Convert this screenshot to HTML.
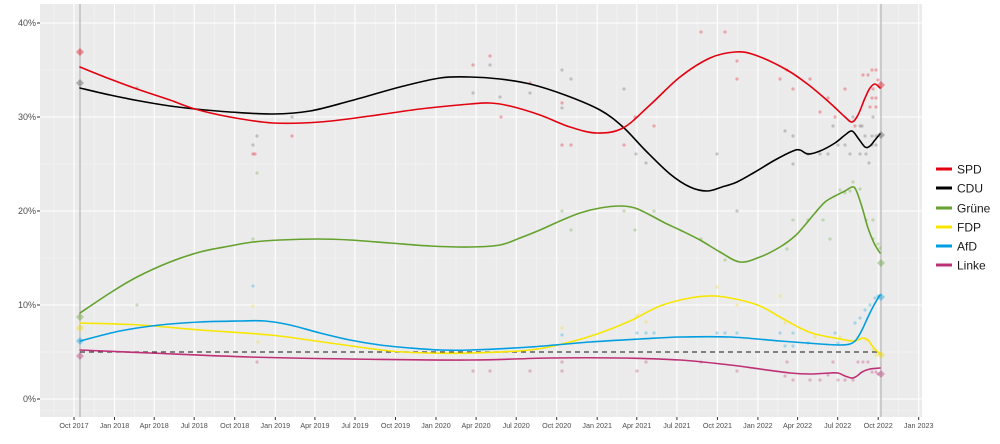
<!DOCTYPE html>
<html><head><meta charset="utf-8">
<style>
html,body{margin:0;padding:0;background:#fff;}
svg{display:block;font-family:"Liberation Sans",sans-serif;}
</style></head>
<body>
<svg id="c" width="1000" height="444" viewBox="0 0 1000 444" xmlns="http://www.w3.org/2000/svg">
<rect x="0" y="0" width="1000" height="444" fill="#fff"/>
<rect x="40" y="4" width="882" height="413" fill="#ebebeb"/>
<g id="minor" stroke="#f5f5f5" stroke-width="0.6"></g>
<g id="major" stroke="#ffffff" stroke-width="1.1"></g>
<!-- election lines -->
<line x1="80" y1="4" x2="80" y2="417" stroke="#a8a8a8" stroke-width="1"/>
<line x1="881" y1="4" x2="881" y2="417" stroke="#a8a8a8" stroke-width="1"/>
<g id="dots"></g>
<!-- 5% threshold -->
<line x1="80" y1="352" x2="881" y2="352" stroke="#404040" stroke-width="1.3" stroke-dasharray="5,4"/>
<g fill="none" stroke-width="1.6" stroke-linejoin="round" stroke-linecap="round">
<polyline class="s" stroke="#64a12d" points="80,313 110,293 137,277 170,262 200,252 230,246 253,242 280,240 318,239 350,240 390,243 430,246 470,247 500,245 520,238 540,230 560,221 580,213 600,208 620,206 635,208 650,215 665,223 680,230 700,240 720,252 740,262 760,257 780,247 795,236 805,225 815,213 825,202 835,196 845,191 852,187 856,190 862,207 868,228 874,243 880,253"/>
<polyline class="s" stroke="#f7e600" points="80,323 140,325 200,330 270,335 330,343 390,351 430,353 470,353 530,350 570,342 600,333 630,321 660,306 690,298 715,296 740,300 760,306 780,317 800,328 815,334 840,339 852,341 858,340 863,338 868,340 873,347 880,354"/>
<polyline class="s" stroke="#009ee0" points="80,341 120,331 160,325 200,322 240,321 265,321 290,325 320,333 350,340 380,345 410,348 440,350 470,350 530,347 590,342 640,339 680,337 730,337 780,341 820,344 840,345 850,344 856,340 862,330 868,317 874,305 880,295"/>
<polyline class="s" stroke="#be3075" points="80,350 150,353 250,357 350,359 470,360 550,358 620,358 680,360 730,365 760,369 790,373 810,374 830,373 838,373 845,376 852,378 857,376 862,372 870,369 880,368"/>
<polyline class="s" stroke="#000000" points="80,88 110,95 140,101 170,106 195,109 230,112 273,114 310,111 350,101 400,87 440,78 470,77 500,79 530,84 565,95 600,110 623,127 645,150 670,174 690,187 707,191 722,187 737,182 755,172 775,160 793,151 800,150 808,154 820,151 835,143 845,135 852,131 858,138 865,147 870,146 875,140 880,134"/>
<polyline class="s" stroke="#e3000f" points="80,67 110,79 140,90 170,100 195,109 230,117 273,123 320,122 370,116 420,109 470,104 490,103 510,106 540,115 570,127 597,133 623,128 650,105 680,77 710,58 735,52 755,55 787,70 810,86 830,103 845,117 852,122 858,115 865,98 870,88 875,84 880,88"/>
</g>
<g id="diam" opacity="0.4"></g>
<!-- axis ticks -->
<g id="ticks" stroke="#333" stroke-width="1"></g>
<g id="ylab" font-size="9" fill="#4d4d4d" text-anchor="end">
<text x="36" y="26">40%</text>
<text x="36" y="120">30%</text>
<text x="36" y="214">20%</text>
<text x="36" y="308">10%</text>
<text x="36" y="402">0%</text>
</g>
<g id="xlab" font-size="7.2" fill="#4d4d4d" text-anchor="middle">
<text x="74" y="428">Oct 2017</text>
<text x="114.5" y="428">Jan 2018</text>
<text x="154.2" y="428">Apr 2018</text>
<text x="194.2" y="428">Jul 2018</text>
<text x="234.7" y="428">Oct 2018</text>
<text x="275.3" y="428">Jan 2019</text>
<text x="314.9" y="428">Apr 2019</text>
<text x="355" y="428">Jul 2019</text>
<text x="395.5" y="428">Oct 2019</text>
<text x="436" y="428">Jan 2020</text>
<text x="476.1" y="428">Apr 2020</text>
<text x="516.2" y="428">Jul 2020</text>
<text x="556.7" y="428">Oct 2020</text>
<text x="597.2" y="428">Jan 2021</text>
<text x="636.8" y="428">Apr 2021</text>
<text x="676.9" y="428">Jul 2021</text>
<text x="717.4" y="428">Oct 2021</text>
<text x="757.9" y="428">Jan 2022</text>
<text x="797.6" y="428">Apr 2022</text>
<text x="837.7" y="428">Jul 2022</text>
<text x="878.2" y="428">Oct 2022</text>
<text x="918.7" y="428">Jan 2023</text>
</g>
<!-- legend -->
<g stroke-width="3">
<line x1="936" y1="169" x2="952" y2="169" stroke="#e3000f"/>
<line x1="936" y1="188" x2="952" y2="188" stroke="#000"/>
<line x1="936" y1="208" x2="952" y2="208" stroke="#64a12d"/>
<line x1="936" y1="227" x2="952" y2="227" stroke="#f7e600"/>
<line x1="936" y1="246" x2="952" y2="246" stroke="#009ee0"/>
<line x1="936" y1="265" x2="952" y2="265" stroke="#be3075"/>
</g>
<g font-size="12" fill="#1a1a1a">
<text x="957" y="173.5">SPD</text>
<text x="957" y="192.5">CDU</text>
<text x="957" y="212.5">Grüne</text>
<text x="957" y="231.5">FDP</text>
<text x="957" y="250.5">AfD</text>
<text x="957" y="269.5">Linke</text>
</g>
</svg>
<script>
(function(){
var NS="http://www.w3.org/2000/svg";
function el(n,a,p){var e=document.createElementNS(NS,n);for(var k in a)e.setAttribute(k,a[k]);p.appendChild(e);return e;}
var xs=[74,114.5,154.2,194.2,234.7,275.3,314.9,355,395.5,436,476.1,516.2,556.7,597.2,636.8,676.9,717.4,757.9,797.6,837.7,878.2,918.7];
var maj=document.getElementById('major'),min=document.getElementById('minor'),tk=document.getElementById('ticks');
xs.forEach(function(x,i){
 el('line',{x1:x,y1:4,x2:x,y2:417},maj);
 el('line',{x1:x,y1:417,x2:x,y2:420},tk);
 if(i>0){var m=(x+xs[i-1])/2;el('line',{x1:m,y1:4,x2:m,y2:417},min);}
});
el('line',{x1:54,y1:4,x2:54,y2:417},min);
[23,117,211,305,399].forEach(function(y){el('line',{x1:40,y1:y,x2:922,y2:y},maj);el('line',{x1:37,y1:y,x2:40,y2:y},tk);});
[70,164,258,352,410.5].forEach(function(y){el('line',{x1:40,y1:y,x2:922,y2:y},min);});
var dots=document.getElementById('dots');
var D={
"#555555":[[137,88],[257,136],[253,145],[292,117],[473,93],[490,65],[500,97],[530,93],[562,70],[562,108],[571,79],[624,89],[636,154],[646,163],[717,154],[737,211],[785,131],[793,136],[793,164],[808,154],[820,154],[828,154],[833,126],[838,145],[845,145],[853,117],[860,126],[865,136],[866,154],[869,163],[872,136],[872,145],[876,145],[876,136],[873,117],[850,154],[860,154],[862,126]],
"#e3000f":[[255,154],[253,154],[292,136],[473,65],[490,56],[501,117],[530,83],[562,103],[562,145],[571,145],[624,145],[635,117],[654,126],[701,32],[725,32],[737,79],[737,61],[787,70],[780,79],[793,89],[810,79],[820,112],[828,98],[835,117],[845,89],[855,126],[863,75],[868,75],[872,70],[876,70],[872,98],[876,98],[870,107],[876,107],[873,89],[878,80]],
"#64a12d":[[137,305],[257,173],[253,239],[562,211],[571,230],[624,211],[635,230],[654,211],[701,239],[725,260],[787,249],[793,220],[808,220],[823,220],[830,239],[840,190],[845,193],[850,191],[853,182],[860,189],[866,220],[873,220],[873,239],[878,244],[880,248]],
"#f2dc00":[[253,306],[258,342],[562,328],[637,315],[646,322],[717,287],[737,305],[780,296],[785,323],[815,337],[840,337],[858,337],[866,340],[873,350],[876,355]],
"#009ee0":[[253,286],[562,335],[637,333],[646,333],[654,333],[717,333],[725,333],[737,333],[780,333],[793,333],[785,346],[793,346],[808,343],[835,333],[838,343],[855,323],[860,318],[865,310],[870,305],[875,298],[878,296]],
"#be3075":[[257,362],[473,371],[490,371],[530,371],[562,362],[562,371],[637,371],[646,362],[701,362],[737,371],[787,362],[793,380],[785,376],[810,380],[820,380],[828,375],[833,362],[838,380],[845,380],[853,380],[858,362],[863,362],[868,362],[872,372],[876,372],[878,374]]
};
for(var c in D){D[c].forEach(function(p){el('circle',{cx:p[0],cy:p[1],r:1.6,fill:c,'fill-opacity':0.3},dots);});}
var dg=document.getElementById('diam');
var E=[["#e3000f",52,85],["#555555",83,135],["#64a12d",317,263],["#f2dc00",328,355],["#009ee0",341,297],["#be3075",356,374]];
E.forEach(function(e){[[80,e[1]],[881,e[2]]].forEach(function(p){
 var x=p[0],y=p[1];el('polygon',{points:(x)+','+(y-4)+' '+(x+4)+','+y+' '+x+','+(y+4)+' '+(x-4)+','+y,fill:e[0]},dg);});});
var pls=document.querySelectorAll('polyline.s');
for(var i=0;i<pls.length;i++){
 var pl=pls[i];var pts=pl.getAttribute('points').trim().split(/\s+/).map(function(s){return s.split(',').map(Number);});
 var d='M'+pts[0][0]+','+pts[0][1];
 for(var j=0;j<pts.length-1;j++){
  var p0=pts[j-1]||pts[j],p1=pts[j],p2=pts[j+1],p3=pts[j+2]||p2;
  var c1=[p1[0]+(p2[0]-p0[0])/6,p1[1]+(p2[1]-p0[1])/6],c2=[p2[0]-(p3[0]-p1[0])/6,p2[1]-(p3[1]-p1[1])/6];
  d+=' C'+c1[0].toFixed(2)+','+c1[1].toFixed(2)+' '+c2[0].toFixed(2)+','+c2[1].toFixed(2)+' '+p2[0]+','+p2[1];
 }
 var path=document.createElementNS(NS,'path');path.setAttribute('d',d);path.setAttribute('stroke',pl.getAttribute('stroke'));
 pl.parentNode.replaceChild(path,pl);
}
})();
</script>
</body></html>
